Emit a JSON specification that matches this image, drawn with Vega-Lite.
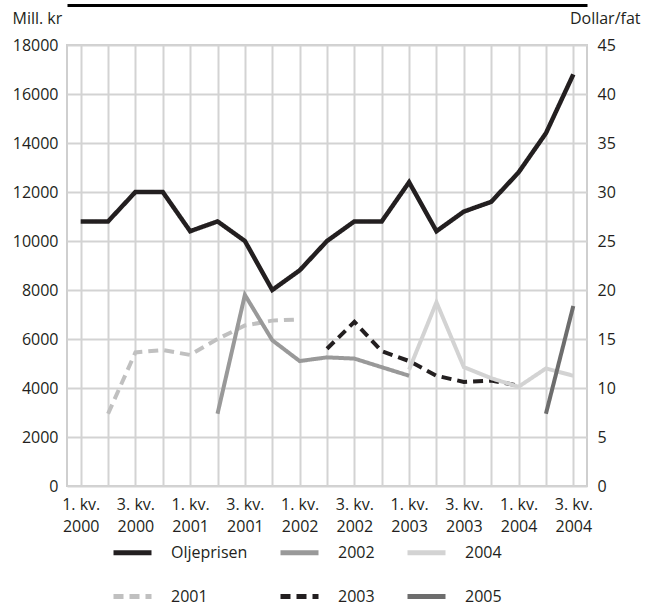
{
  "$schema": "https://vega.github.io/schema/vega-lite/v6.json",
  "width": 520,
  "height": 441,
  "autosize": "none",
  "padding": {"left": 67, "top": 45, "right": 64, "bottom": 124},
  "config": {
    "font": "Open Sans",
    "view": {"stroke": "#cfcfcf", "strokeWidth": 2},
    "axis": {
      "labelFont": "Open Sans", "labelFontSize": 16, "labelColor": "#231f20",
      "titleFont": "Open Sans", "titleFontSize": 16, "titleFontWeight": "normal", "titleColor": "#231f20",
      "gridColor": "#d3d3d3", "gridWidth": 2, "gridOpacity": 1,
      "domain": false, "ticks": false
    },
    "legend": {
      "orient": "none", "legendX": 44, "legendY": 486, "columns": 3, "direction": "vertical",
      "symbolType": "stroke", "symbolSize": 1444, "symbolStrokeWidth": 5,
      "labelFont": "Open Sans", "labelFontSize": 16, "labelColor": "#231f20",
      "labelOffset": 17, "columnPadding": 22, "rowPadding": 12
    }
  },
  "data": {
    "values": [
      {"q": "1. kv. 2000", "series": "Oljeprisen", "value": 27},
      {"q": "2. kv. 2000", "series": "Oljeprisen", "value": 27},
      {"q": "3. kv. 2000", "series": "Oljeprisen", "value": 30},
      {"q": "4. kv. 2000", "series": "Oljeprisen", "value": 30},
      {"q": "1. kv. 2001", "series": "Oljeprisen", "value": 26},
      {"q": "2. kv. 2001", "series": "Oljeprisen", "value": 27},
      {"q": "3. kv. 2001", "series": "Oljeprisen", "value": 25},
      {"q": "4. kv. 2001", "series": "Oljeprisen", "value": 20},
      {"q": "1. kv. 2002", "series": "Oljeprisen", "value": 22},
      {"q": "2. kv. 2002", "series": "Oljeprisen", "value": 25},
      {"q": "3. kv. 2002", "series": "Oljeprisen", "value": 27},
      {"q": "4. kv. 2002", "series": "Oljeprisen", "value": 27},
      {"q": "1. kv. 2003", "series": "Oljeprisen", "value": 31},
      {"q": "2. kv. 2003", "series": "Oljeprisen", "value": 26},
      {"q": "3. kv. 2003", "series": "Oljeprisen", "value": 28},
      {"q": "4. kv. 2003", "series": "Oljeprisen", "value": 29},
      {"q": "1. kv. 2004", "series": "Oljeprisen", "value": 32},
      {"q": "2. kv. 2004", "series": "Oljeprisen", "value": 36},
      {"q": "3. kv. 2004", "series": "Oljeprisen", "value": 42},
      {"q": "2. kv. 2000", "series": "2001", "value": 2950},
      {"q": "3. kv. 2000", "series": "2001", "value": 5450},
      {"q": "4. kv. 2000", "series": "2001", "value": 5550},
      {"q": "1. kv. 2001", "series": "2001", "value": 5350},
      {"q": "2. kv. 2001", "series": "2001", "value": 6000},
      {"q": "3. kv. 2001", "series": "2001", "value": 6550},
      {"q": "4. kv. 2001", "series": "2001", "value": 6750},
      {"q": "1. kv. 2002", "series": "2001", "value": 6800},
      {"q": "2. kv. 2001", "series": "2002", "value": 2950},
      {"q": "3. kv. 2001", "series": "2002", "value": 7800},
      {"q": "4. kv. 2001", "series": "2002", "value": 5950},
      {"q": "1. kv. 2002", "series": "2002", "value": 5100},
      {"q": "2. kv. 2002", "series": "2002", "value": 5250},
      {"q": "3. kv. 2002", "series": "2002", "value": 5200},
      {"q": "4. kv. 2002", "series": "2002", "value": 4850},
      {"q": "1. kv. 2003", "series": "2002", "value": 4500},
      {"q": "2. kv. 2002", "series": "2003", "value": 5600},
      {"q": "3. kv. 2002", "series": "2003", "value": 6700},
      {"q": "4. kv. 2002", "series": "2003", "value": 5500},
      {"q": "1. kv. 2003", "series": "2003", "value": 5100},
      {"q": "2. kv. 2003", "series": "2003", "value": 4500},
      {"q": "3. kv. 2003", "series": "2003", "value": 4250},
      {"q": "4. kv. 2003", "series": "2003", "value": 4300},
      {"q": "1. kv. 2004", "series": "2003", "value": 4100},
      {"q": "1. kv. 2003", "series": "2004", "value": 4750},
      {"q": "2. kv. 2003", "series": "2004", "value": 7500},
      {"q": "3. kv. 2003", "series": "2004", "value": 4850},
      {"q": "4. kv. 2003", "series": "2004", "value": 4400},
      {"q": "1. kv. 2004", "series": "2004", "value": 4050},
      {"q": "2. kv. 2004", "series": "2004", "value": 4800},
      {"q": "3. kv. 2004", "series": "2004", "value": 4500},
      {"q": "2. kv. 2004", "series": "2005", "value": 2950},
      {"q": "3. kv. 2004", "series": "2005", "value": 7350}
    ]
  },
  "layer": [
    {
      "transform": [{"filter": "datum.series != 'Oljeprisen'"}],
      "mark": {"type": "line", "strokeWidth": 4},
      "encoding": {
        "x": {
          "field": "q", "type": "ordinal",
          "scale": {"type": "point", "padding": 0.5, "domain": ["1. kv. 2000","2. kv. 2000","3. kv. 2000","4. kv. 2000","1. kv. 2001","2. kv. 2001","3. kv. 2001","4. kv. 2001","1. kv. 2002","2. kv. 2002","3. kv. 2002","4. kv. 2002","1. kv. 2003","2. kv. 2003","3. kv. 2003","4. kv. 2003","1. kv. 2004","2. kv. 2004","3. kv. 2004"]},
          "axis": {
            "title": null, "grid": true, "labelAngle": 0, "labelPadding": 10, "labelLineHeight": 22,
            "labelAlign": "center", "labelBaseline": "top",
            "labelExpr": "(substring(datum.label,0,1) == '1' || substring(datum.label,0,1) == '3') ? [substring(datum.label,0,6), substring(datum.label,7)] : ''"
          }
        },
        "y": {
          "field": "value", "type": "quantitative",
          "scale": {"domain": [0, 18000], "nice": false},
          "axis": {
            "values": [0,2000,4000,6000,8000,10000,12000,14000,16000,18000],
            "format": "d", "grid": true, "labelPadding": 9,
            "title": "Mill. kr", "titleAngle": 0, "titleAlign": "left", "titleBaseline": "middle",
            "titleX": -55, "titleY": -27
          }
        },
        "color": {
          "field": "series", "type": "nominal", "title": null,
          "scale": {"domain": ["Oljeprisen","2001","2002","2003","2004","2005"], "range": ["#231f20","#c0c0c0","#999999","#231f20","#d3d3d3","#6d6d6d"]}
        },
        "strokeDash": {
          "field": "series", "type": "nominal", "title": null,
          "scale": {"domain": ["Oljeprisen","2001","2002","2003","2004","2005"], "range": [[1,0],[10,6],[1,0],[10,6],[1,0],[1,0]]}
        }
      }
    },
    {
      "transform": [{"filter": "datum.series == 'Oljeprisen'"}],
      "mark": {"type": "line", "strokeWidth": 4.5},
      "encoding": {
        "x": {
          "field": "q", "type": "ordinal",
          "axis": {"orient": "top", "offset": 40, "domain": true, "domainColor": "#000000", "domainWidth": 3, "labels": false, "ticks": false, "grid": false, "title": null}
        },
        "y": {
          "field": "value", "type": "quantitative",
          "scale": {"domain": [0, 45], "nice": false},
          "axis": {
            "orient": "right", "values": [0,5,10,15,20,25,30,35,40,45], "grid": false, "labelPadding": 10,
            "title": "Dollar/fat", "titleAngle": 0, "titleAlign": "right", "titleBaseline": "middle",
            "titleX": 53, "titleY": -27
          }
        },
        "color": {"field": "series", "type": "nominal", "title": null},
        "strokeDash": {"field": "series", "type": "nominal", "title": null}
      }
    }
  ],
  "resolve": {"scale": {"y": "independent"}, "axis": {"x": "independent"}}
}
